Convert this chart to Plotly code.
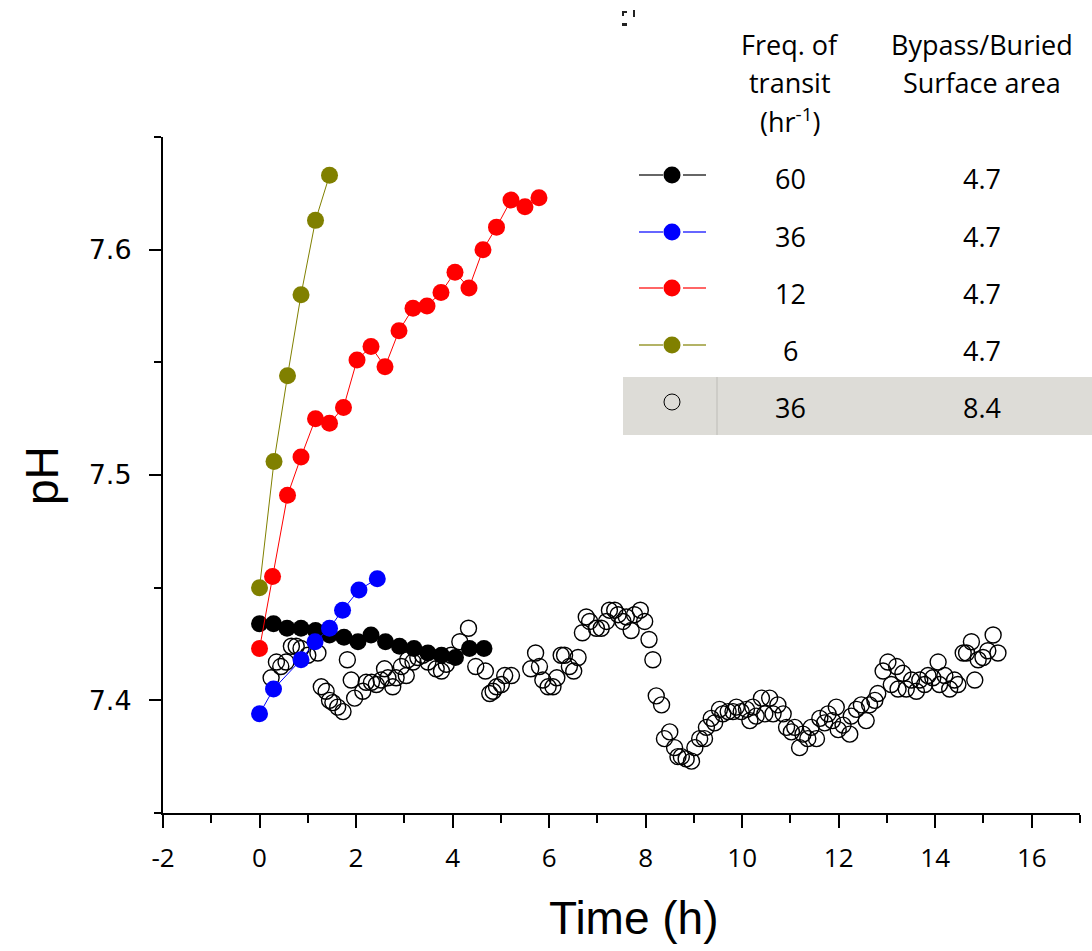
import plotly.graph_objects as go

# ---------------- data ----------------
# Freq 60 /hr, area 4.7 (black)
t60 = [0, 0.29, 0.57, 0.86, 1.16, 1.45, 1.75, 2.04, 2.31, 2.61, 2.90, 3.20, 3.49, 3.77, 4.06, 4.35, 4.65]
ph60 = [7.434, 7.434, 7.432, 7.432, 7.431, 7.429, 7.428, 7.426, 7.429, 7.426, 7.424, 7.423, 7.421, 7.420, 7.419, 7.423, 7.423]

# Freq 36 /hr, area 4.7 (blue)
t36 = [0, 0.29, 0.86, 1.15, 1.45, 1.72, 2.06, 2.44]
ph36 = [7.394, 7.405, 7.418, 7.426, 7.432, 7.440, 7.449, 7.454]

# Freq 12 /hr, area 4.7 (red)
t12 = [0, 0.27, 0.58, 0.86, 1.16, 1.45, 1.74, 2.02, 2.31, 2.60, 2.89, 3.18, 3.47, 3.76, 4.05, 4.34, 4.63, 4.91, 5.21, 5.50, 5.79]
ph12 = [7.423, 7.455, 7.491, 7.508, 7.525, 7.523, 7.530, 7.551, 7.557, 7.548, 7.564, 7.574, 7.575, 7.581, 7.590, 7.583, 7.600, 7.610, 7.622, 7.619, 7.623]

# Freq 6 /hr, area 4.7 (olive)
t6 = [0, 0.30, 0.58, 0.86, 1.16, 1.45]
ph6 = [7.450, 7.506, 7.544, 7.580, 7.613, 7.633]

# Freq 36 /hr, area 8.4 (open circles)
tO = [0.24, 0.35, 0.44, 0.55, 0.66, 0.76, 0.86, 1.00, 1.21, 1.28, 1.38, 1.45, 1.52, 1.62, 1.73, 1.82, 1.90, 1.97, 2.14, 2.21,
      2.32, 2.42, 2.52, 2.59, 2.66, 2.76, 2.83, 2.94, 3.04, 3.07, 3.18, 3.28, 3.38, 3.49, 3.66, 3.77, 3.87, 3.97, 4.15, 4.33, 4.48,
      4.68, 4.77, 4.84, 4.91, 5.01, 5.08, 5.22, 5.62, 5.72, 5.80, 5.87, 5.98, 6.08, 6.16, 6.25, 6.32, 6.42, 6.51, 6.60, 6.69,
      6.77, 6.84, 6.98, 7.08, 7.19, 7.25, 7.36, 7.43, 7.53, 7.60, 7.70, 7.77, 7.89, 7.98, 8.07, 8.15, 8.22, 8.33,
      8.39, 8.50, 8.60, 8.67, 8.74, 8.84, 8.95, 9.02, 9.12, 9.22, 9.26, 9.36, 9.43, 9.53, 9.60, 9.71, 9.81, 9.88, 9.98, 10.09,
      10.16, 10.22, 10.29, 10.40, 10.47, 10.57, 10.64, 10.74, 10.85, 10.92, 11.02, 11.09, 11.19, 11.26, 11.36, 11.43, 11.54,
      11.61, 11.71, 11.78, 11.87,
      11.95, 11.99, 12.09, 12.23, 12.26, 12.37, 12.47, 12.57, 12.64, 12.75, 12.81, 12.92, 13.02, 13.09, 13.20, 13.23, 13.33,
      13.40, 13.51, 13.61, 13.68, 13.78, 13.85, 13.95, 14.06, 14.09, 14.20, 14.30, 14.40, 14.47, 14.58, 14.65, 14.75, 14.82,
      14.89, 14.99, 15.09, 15.20, 15.30]
phO = [7.410, 7.417, 7.415, 7.417, 7.424, 7.424, 7.423, 7.420, 7.421, 7.406, 7.404, 7.400, 7.399, 7.397, 7.395, 7.418, 7.409, 7.401, 7.404, 7.408,
       7.408, 7.407, 7.409, 7.414, 7.410, 7.406, 7.410, 7.415, 7.411, 7.418, 7.417, 7.419, 7.420, 7.417, 7.414, 7.413, 7.416, 7.420, 7.426, 7.432, 7.415,
       7.413, 7.403, 7.404, 7.406, 7.407, 7.411, 7.411, 7.414, 7.421, 7.415, 7.409, 7.406, 7.406, 7.410, 7.420, 7.420, 7.415, 7.413, 7.419, 7.430,
       7.437, 7.435, 7.432, 7.432, 7.435, 7.440, 7.440, 7.438, 7.435, 7.437, 7.431, 7.438, 7.440, 7.435, 7.427, 7.418, 7.402, 7.398,
       7.383, 7.386, 7.379, 7.375, 7.375, 7.374, 7.373, 7.379, 7.383, 7.383, 7.388, 7.392, 7.390, 7.396, 7.394, 7.395, 7.395, 7.397, 7.395, 7.396,
       7.391, 7.397, 7.393, 7.401, 7.394, 7.401, 7.394, 7.398, 7.394, 7.388, 7.386, 7.388, 7.379, 7.385, 7.383, 7.388, 7.383,
       7.392, 7.390, 7.394, 7.391,
       7.397, 7.387, 7.389, 7.385, 7.393, 7.396, 7.398, 7.391, 7.398, 7.400, 7.403, 7.413, 7.417, 7.407, 7.415, 7.405, 7.412,
       7.405, 7.409, 7.404, 7.409, 7.407, 7.411, 7.410, 7.417, 7.407, 7.411, 7.405, 7.409, 7.407, 7.421, 7.421, 7.426, 7.409,
       7.418, 7.419, 7.422, 7.429, 7.421]

x_ticks = [-2, 0, 2, 4, 6, 8, 10, 12, 14, 16]
x_tick_text = ["-2", "0", "2", "4", "6", "8", "10", "12", "14", "16"]
y_ticks = [7.4, 7.5, 7.6]
y_tick_text = ["7.4", "7.5", "7.6"]

legend_freq = ["60", "36", "12", "6", "36"]
legend_area = ["4.7", "4.7", "4.7", "4.7", "8.4"]
legend_colors = ["#000000", "#0000ff", "#ff0000", "#808000", None]

# ---------------- figure ----------------
W, H = 1092, 951
L, R, T, B = 163, 12, 137, 138
PW, PH = W - L - R, H - T - B


def fx(px):
    return (px - L) / PW


def fy(py):
    return (H - B - py) / PH


fig = go.Figure()

fig.add_trace(go.Scatter(x=tO, y=phO, mode="markers", name="36 / 8.4",
                         marker=dict(symbol="circle-open", size=16, color="#000000", line=dict(width=1.4, color="#000000"))))

for t, p, c in [(t60, ph60, "#000000"), (t6, ph6, "#808000"), (t12, ph12, "#ff0000"), (t36, ph36, "#0000ff")]:
    fig.add_trace(go.Scatter(x=t, y=p, mode="lines+markers",
                             line=dict(color=c, width=1),
                             marker=dict(symbol="circle", size=17, color=c, line=dict(width=0))))

shapes = []
annotations = []

# tiny marks at the top
mark_col = "#222222"
for (x0, y0, x1, y1) in [(622, 11, 627, 13), (622, 11, 624, 16), (633, 10, 635, 17), (622, 23, 627, 26)]:
    shapes.append(dict(type="rect", xref="paper", yref="paper", x0=fx(x0), x1=fx(x1), y0=fy(y1), y1=fy(y0),
                       fillcolor=mark_col, line=dict(width=0)))

# gray highlight row
shapes.append(dict(type="rect", xref="paper", yref="paper", x0=fx(623), x1=fx(1092), y0=fy(435), y1=fy(377),
                   fillcolor="#dddcd7", line=dict(width=0)))
shapes.append(dict(type="line", xref="paper", yref="paper", x0=fx(717), x1=fx(717), y0=fy(435), y1=fy(377),
                   line=dict(color="#bdbcb7", width=1)))

row_marker_y = [175, 232, 288, 345, 402]
row_text_y = [178, 236, 293, 350, 407]
for i in range(5):
    c = legend_colors[i]
    my = row_marker_y[i]
    if c is not None:
        shapes.append(dict(type="line", xref="paper", yref="paper", x0=fx(639), x1=fx(663), y0=fy(my), y1=fy(my),
                           line=dict(color=c, width=1.2)))
        shapes.append(dict(type="line", xref="paper", yref="paper", x0=fx(683), x1=fx(706), y0=fy(my), y1=fy(my),
                           line=dict(color=c, width=1.2)))
        shapes.append(dict(type="circle", xref="paper", yref="paper", xsizemode="pixel", ysizemode="pixel",
                           xanchor=fx(672), yanchor=fy(my), x0=-8.5, x1=8.5, y0=-8.5, y1=8.5,
                           fillcolor=c, line=dict(width=0)))
    else:
        shapes.append(dict(type="circle", xref="paper", yref="paper", xsizemode="pixel", ysizemode="pixel",
                           xanchor=fx(672), yanchor=fy(my), x0=-8, x1=8, y0=-8, y1=8,
                           fillcolor="rgba(0,0,0,0)", line=dict(width=1, color="#000000")))
    for txt, cx in [(legend_freq[i], 790), (legend_area[i], 982)]:
        annotations.append(dict(text=txt, x=fx(cx), y=fy(row_text_y[i]), xref="paper", yref="paper",
                                xanchor="center", yanchor="middle", showarrow=False,
                                font=dict(family="Open Sans", size=27, color="#000000")))

header = [("Freq. of", 790, 45), ("transit", 790, 82), ("(hr<sup>-1</sup>)", 790, 120),
          ("Bypass/Buried", 982, 45), ("Surface area", 982, 82)]
for txt, cx, cy in header:
    annotations.append(dict(text=txt, x=fx(cx), y=fy(cy), xref="paper", yref="paper",
                            xanchor="center", yanchor="middle", showarrow=False,
                            font=dict(family="Open Sans", size=27, color="#000000")))

# axis titles
annotations.append(dict(text="Time (h)", x=fx(634), y=fy(918), xref="paper", yref="paper",
                        xanchor="center", yanchor="middle", showarrow=False,
                        font=dict(family="Liberation Sans", size=46, color="#000000")))
annotations.append(dict(text="pH", x=fx(42), y=fy(476), xref="paper", yref="paper", textangle=-90,
                        xanchor="center", yanchor="middle", showarrow=False,
                        font=dict(family="Liberation Sans", size=46, color="#000000")))

fig.update_layout(
    width=W, height=H,
    margin=dict(l=L, r=R, t=T, b=B, pad=0),
    paper_bgcolor="#ffffff", plot_bgcolor="#ffffff",
    showlegend=False,
    shapes=shapes,
    annotations=annotations,
    xaxis=dict(range=[-2, 17], showgrid=False, zeroline=False,
               showline=True, linecolor="#000000", linewidth=2,
               tickmode="array", tickvals=x_ticks, ticktext=x_tick_text,
               ticks="outside", ticklen=13, tickwidth=2, tickcolor="#000000",
               minor=dict(dtick=1, tick0=0, ticks="outside", ticklen=8, tickwidth=2, tickcolor="#000000", showgrid=False),
               tickfont=dict(family="Open Sans", size=26, color="#000000"),
               ticklabelstandoff=8),
    yaxis=dict(range=[7.35, 7.65], showgrid=False, zeroline=False,
               showline=True, linecolor="#000000", linewidth=2,
               tickmode="array", tickvals=y_ticks, ticktext=y_tick_text,
               ticks="outside", ticklen=12, tickwidth=2, tickcolor="#000000",
               minor=dict(dtick=0.05, tick0=7.35, ticks="outside", ticklen=7, tickwidth=2, tickcolor="#000000", showgrid=False),
               tickfont=dict(family="DejaVu Sans", size=27, color="#000000"),
               ticklabelstandoff=12),
)

fig.write_html("out.html")
